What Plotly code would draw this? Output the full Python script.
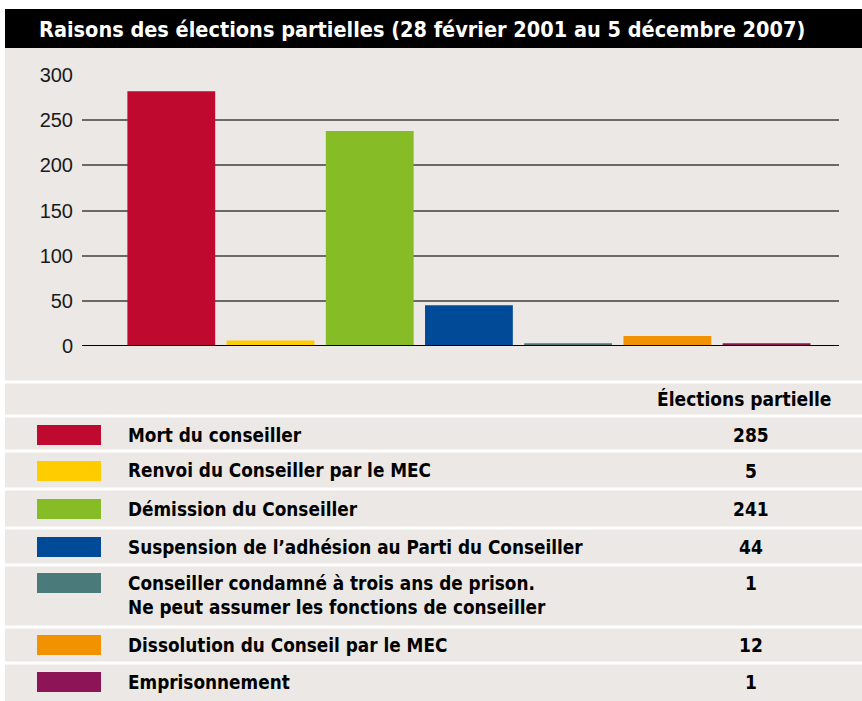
import plotly.graph_objects as go

# ---------------- data ----------------
title = "Raisons des élections partielles (28 février 2001 au 5 décembre 2007)"
categories = [
    "Mort du conseiller",
    "Renvoi du Conseiller par le MEC",
    "Démission du Conseiller",
    "Suspension de l’adhésion au Parti du Conseiller",
    "Conseiller condamné à trois ans de prison.<br>Ne peut assumer les fonctions de conseiller",
    "Dissolution du Conseil par le MEC",
    "Emprisonnement",
]
# heights of the bars as drawn in the chart
bar_values = [282, 6, 238, 45, 3, 11, 3]
# numbers shown in the table
table_values = [285, 5, 241, 44, 1, 12, 1]
table_header = "Élections partielle"
y_ticks = [0, 50, 100, 150, 200, 250, 300]
colors = ["#c0092f", "#ffcc00", "#86bc25", "#004a98", "#4a7b7a", "#f39200", "#8d1457"]

# ---------------- layout helpers ----------------
W, H = 862, 701
BG = "#ebe8e5"
FONT_B = "DejaVu Sans Condensed, Liberation Sans Narrow, DejaVu Sans, sans-serif"


def px(x):
    return x / W


def py(y):
    return 1 - y / H


def bfont(size):
    return dict(family=FONT_B, size=size, color="black", weight="bold")


fig = go.Figure()
fig.add_trace(go.Bar(
    x=categories, y=bar_values,
    marker=dict(color=colors, line=dict(width=0)),
    hoverinfo="skip",
))

shapes = []
annotations = []

# grey panel background
shapes.append(dict(type="rect", xref="paper", yref="paper", layer="below",
                   x0=px(5), x1=px(862), y0=py(701), y1=py(48),
                   fillcolor=BG, line=dict(width=0)))
# title bar
shapes.append(dict(type="rect", xref="paper", yref="paper", layer="below",
                   x0=px(5), x1=px(862), y0=py(48), y1=py(9),
                   fillcolor="black", line=dict(width=0)))
tf = bfont(21.5)
tf["color"] = "white"
annotations.append(dict(text=title, xref="paper", yref="paper",
                        x=px(37), y=py(29), xanchor="left", yanchor="middle",
                        showarrow=False, font=tf))

# zero line
shapes.append(dict(type="line", xref="paper", yref="y", x0=px(82), x1=px(839),
                   y0=0, y1=0, line=dict(color="black", width=2), layer="above"))

# table row layout (pixel positions)
sep_lines = [382, 416, 451, 489, 528, 565, 627, 663]
row_line1 = [435, 471, 509, 547, 583, 645, 682]
line_h = 24
for s in sep_lines:
    shapes.append(dict(type="line", xref="paper", yref="paper",
                       x0=px(5), x1=px(862), y0=py(s), y1=py(s),
                       line=dict(color="white", width=3), layer="below"))

annotations.append(dict(text=table_header, xref="paper", yref="paper",
                        x=px(833), y=py(399), xanchor="right", yanchor="middle",
                        showarrow=False, font=bfont(19)))

for i, (lab, val, col) in enumerate(zip(categories, table_values, colors)):
    yc = row_line1[i]
    shapes.append(dict(type="rect", xref="paper", yref="paper",
                       x0=px(37), x1=px(101), y0=py(yc + 10), y1=py(yc - 10),
                       fillcolor=col, line=dict(width=0)))
    nlines = lab.count("<br>") + 1
    annotations.append(dict(text=lab,
                            xref="paper", yref="paper",
                            x=px(126), y=py(yc + (nlines - 1) * line_h / 2),
                            xanchor="left", yanchor="middle", align="left",
                            showarrow=False, font=bfont(18.8)))
    annotations.append(dict(text=str(val), xref="paper", yref="paper",
                            x=px(751), y=py(yc), xanchor="center", yanchor="middle",
                            showarrow=False, font=bfont(19)))

fig.update_layout(
    width=W, height=H,
    margin=dict(l=0, r=0, t=0, b=0, pad=0, autoexpand=False),
    paper_bgcolor="white",
    plot_bgcolor="rgba(0,0,0,0)",
    showlegend=False,
    bargap=0.115,
    xaxis=dict(domain=[px(82), px(839)], visible=False, automargin=False,
               range=[-0.9, 6.73], fixedrange=True),
    yaxis=dict(domain=[py(346), py(75)], range=[0, 300], automargin=False,
               tickvals=y_ticks, ticktext=[str(v) for v in y_ticks],
               showgrid=True, gridcolor="#6b6865", gridwidth=1.5,
               zeroline=False, showline=False, ticks="",
               ticklabelstandoff=8,
               tickfont=dict(family="Liberation Sans", size=20, color="#1a1a1a"),
               fixedrange=True),
    shapes=shapes,
    annotations=annotations,
)

fig.write_html(
    "out.html",
    config={"displayModeBar": False},
    post_script="document.body.style.margin='0';document.body.style.overflow='hidden';",
)
